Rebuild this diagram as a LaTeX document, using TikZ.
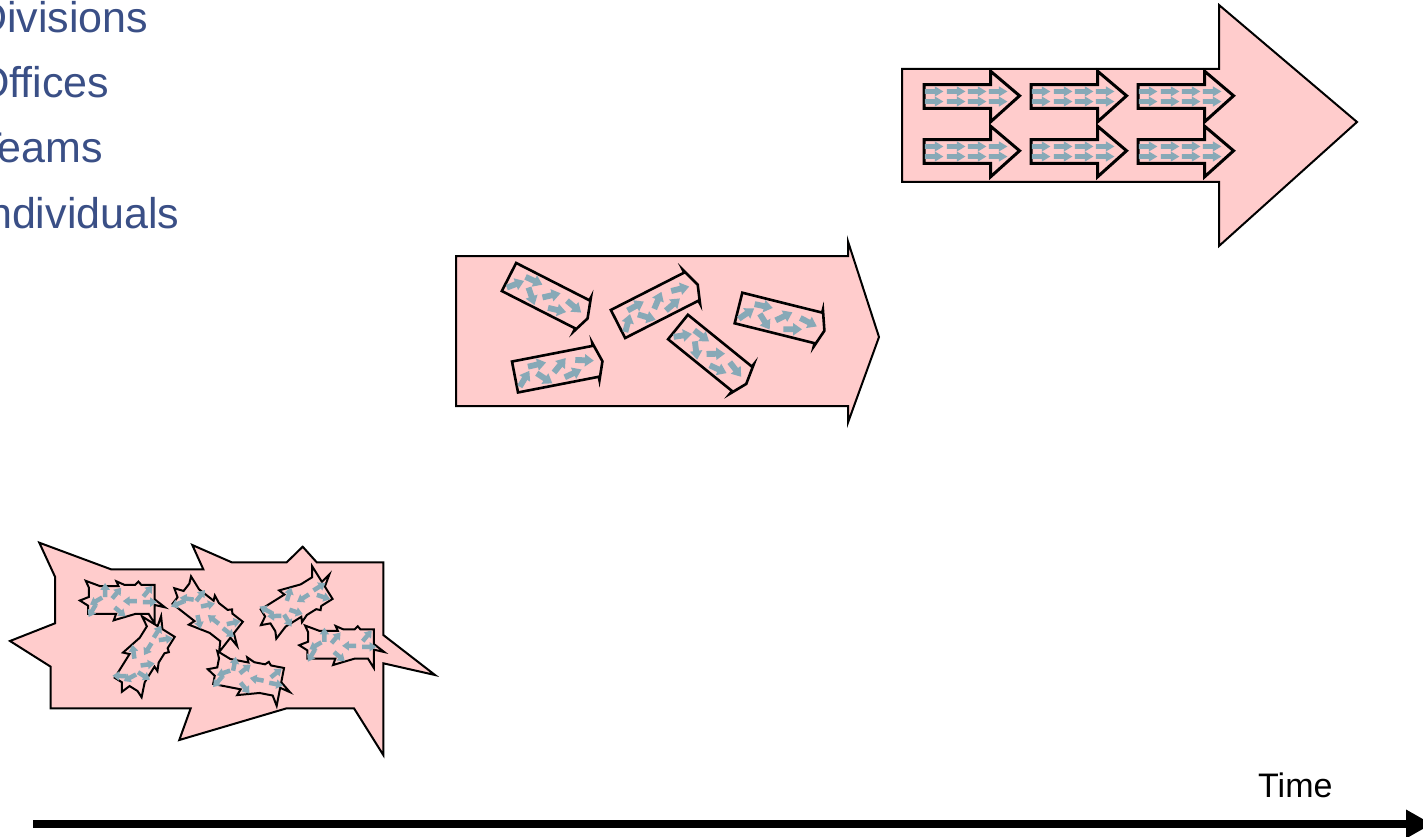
\documentclass[tikz,border=0pt]{standalone}
\usepackage{fontspec}
\setmainfont{Liberation Sans}
\usetikzlibrary{arrows.meta}
\definecolor{stagepink}{HTML}{FFCCCC}
\definecolor{membergrey}{HTML}{87A9B7}
\definecolor{labelblue}{HTML}{3A4F86}
\tikzset{
  stage/.style={draw=black, fill=stagepink, line width=2pt, line join=miter},
  unit/.style={draw=black, fill=stagepink, line width=2.6pt, line join=miter},
  member/.style={fill=membergrey},
  levellabel/.style={font=\fontsize{43}{50}\selectfont, text=labelblue, inner sep=0pt, anchor=base west},
}
% outlines of the three stages, in their own units
\def\divshape{(0,-56.5) -- (317,-56.5) -- (317,-120.5) -- (455,-3.5) -- (317,120.5) -- (317,56.5) -- (0,56.5) -- cycle}
\def\offshape{(0,-75) -- (392,-75) -- (392,-89.5) -- (423,6) -- (392,91.5) -- (392,75) -- (0,75) -- cycle}
\def\teamshape{(-179.7,-92.3) -- (-108,-65.7) -- (-15.7,-65.7) -- (-26.7,-90) -- (12.7,-72.7) -- (67.7,-72.7) -- (83.7,-88.3) -- (97.7,-72.7) -- (164.3,-72.7) -- (164.3,0) -- (216,40) -- (164.3,28.3) -- (164.3,120) -- (135,73.3) -- (67.7,73.3) -- (-39.7,105) -- (-28.3,73.3) -- (-168.3,73.3) -- (-168.3,31.7) -- (-209,6) -- (-164,-11.7) -- (-164,-58.3) -- cycle}
\def\memberarrow{(-44,-11) -- (4,-11) -- (4,-24) -- (44,0) -- (4,24) -- (4,11) -- (-44,11) -- cycle}
\def\memberblock{(-44,-14) -- (2,-14) -- (2,-30) -- (44,0) -- (2,30) -- (2,14) -- (-44,14) -- cycle}
\begin{document}
\begin{tikzpicture}[x=1pt,y=-1pt]
	\useasboundingbox (0,0) rectangle (1423,837);
	% level names
	\node[levellabel] (divisions) at (-24,33) {Divisions};
	\node[levellabel] (offices) at (-24,98) {Offices};
	\node[levellabel] (teams) at (-24,163) {Teams};
	\node[levellabel] (individuals) at (-24,228) {Individuals};
	% time axis
	\coordinate (t0) at (33,824);
	\coordinate (t1) at (1432,824);
	\draw[line width=8.5pt, -{Triangle[length=26pt,width=27pt]}] (t0) -- (t1);
	\node[font=\fontsize{34}{40}\selectfont, inner sep=0pt, anchor=base west] (time) at (1258,797) {Time};
	% divisions
	\begin{scope}[shift={(902,125.5)}]
		\draw[stage] \divshape;
	\end{scope}
	\foreach \cx in {924,1031,1138}
	\foreach \cy in {96.5,151.5}{
		\begin{scope}[shift={(\cx,\cy)}, scale=0.21]
			\draw[unit, line width=3pt] \divshape;
			\foreach \mx in {48,153,253,353}
			\foreach \my in {-24,24}
				\fill[member, shift={(\mx,\my)}] \memberarrow;
		\end{scope}}
	% offices
	\begin{scope}[shift={(456,331)}]
		\draw[stage] \offshape;
	\end{scope}
	\foreach \bx/\by/\br in {509/277/-27, 515/377/11, 618/324/27, 678/327/-39, 738.5/308/-14}{
		\begin{scope}[shift={(\bx,\by)}, rotate=\br, scale=0.21]
			\draw[unit, line width=2.6pt] \offshape;
			\foreach \mx/\my/\ma in {43/17/48, 114/-38/2, 137/33/-44, 220/-14/40, 275/36/14, 340/-15/-13}
				\fill[member, shift={(\mx,\my)}, rotate=\ma] \memberblock;
		\end{scope}}
	% teams of individuals
	\begin{scope}[shift={(219,635)}]
		\draw[stage] \teamshape;
	\end{scope}
	\foreach \jx/\jy/\jr/\jf in {121.7/599.3/0/1, 208/613/-38/1, 145/657/58/-1, 249/676/-11/1, 297/604/32/-1, 341/644/0/1}{
		\begin{scope}[shift={(\jx,\jy)}, rotate=\jr, scale=0.2, yscale=\jf]
			\draw[unit, line width=2pt] \teamshape;
			\foreach \mx/\my/\ma in {-83/-46/90, -25/-31/50, 41/9/180, 141/14/0, 131/-41/50, -8/63/-40, -128/9/-150, -148/58/-120}
				\fill[member, shift={(\mx,\my)}, rotate=\ma, scale=0.8] \memberblock;
		\end{scope}}
\end{tikzpicture}
\end{document}
